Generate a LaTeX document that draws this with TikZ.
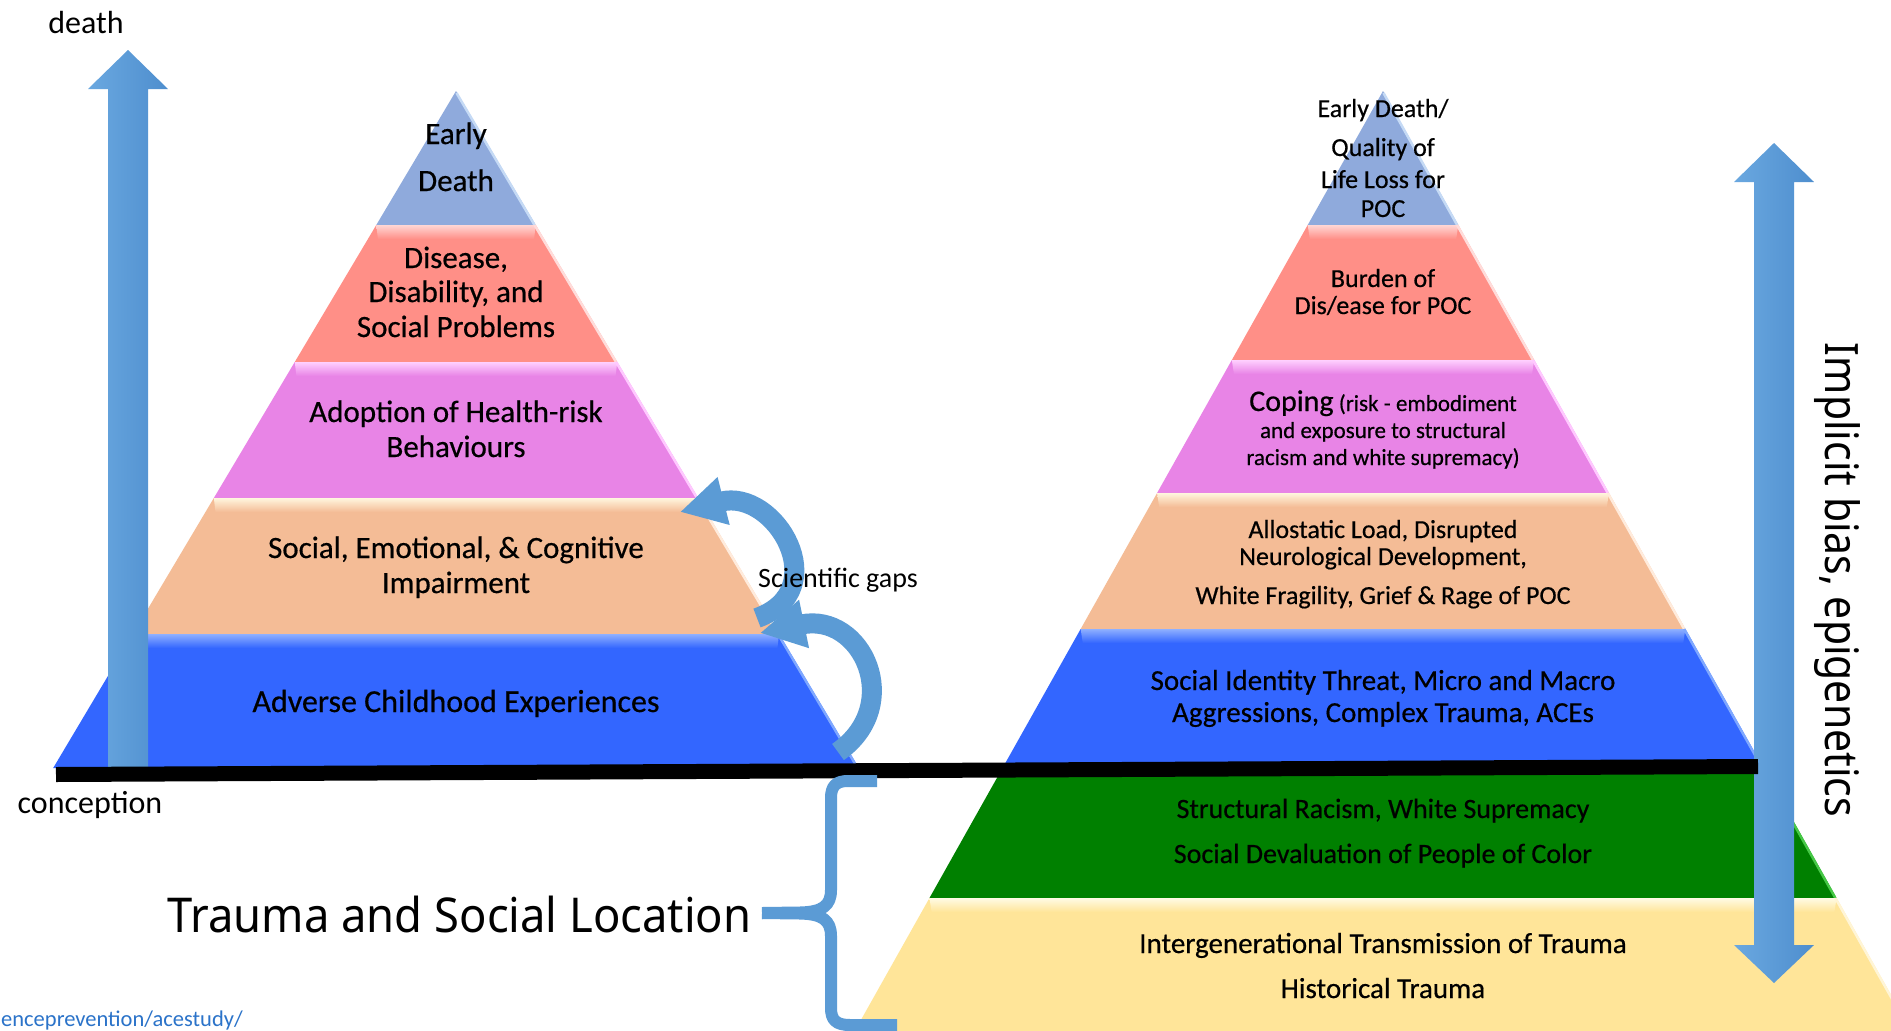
\documentclass[tikz,border=0pt]{standalone}
\usepackage{fontspec}
\setmainfont{Carlito}
\newfontfamily\notosans{Noto Sans}
\newfontfamily\pyrfont{Carlito}[FakeBold=0.5]
\usetikzlibrary{arrows.meta}
\definecolor{cTop}{RGB}{143,170,220}
\definecolor{cSal}{RGB}{255,143,135}
\definecolor{cVio}{RGB}{232,132,230}
\definecolor{cPea}{RGB}{244,188,150}
\definecolor{cBlu}{RGB}{51,102,255}
\definecolor{cGre}{RGB}{0,128,0}
\definecolor{cYel}{RGB}{255,229,153}
\definecolor{hSal}{RGB}{255,214,212}
\definecolor{hVio}{RGB}{255,208,255}
\definecolor{hPea}{RGB}{255,246,222}
\definecolor{hBlu}{RGB}{143,176,255}
\definecolor{hYel}{RGB}{255,251,229}
\definecolor{eTop}{RGB}{197,218,245}
\definecolor{eSal}{RGB}{255,220,218}
\definecolor{eVio}{RGB}{255,200,255}
\definecolor{ePea}{RGB}{255,235,220}
\definecolor{eBlu}{RGB}{127,168,255}
\definecolor{eGre}{RGB}{70,200,70}
\definecolor{eYel}{RGB}{255,245,214}
\definecolor{arBlue}{RGB}{91,155,213}
\definecolor{arLight}{RGB}{106,168,224}
\definecolor{arDark}{RGB}{78,142,206}
\definecolor{linkBlue}{RGB}{43,115,201}
\newcommand{\pfs}[1]{\fontsize{#1}{#1}\selectfont}
% #1 ytop, #2 ybot, #3 apex x, #4 slope, #5 base colour, #6 highlight, #7 edge
\newcommand{\pyrlayer}[7]{%
  \fill[#5] ({#3-#4*(#1-91)},#1) -- ({#3+#4*(#1-91)},#1) -- ({#3+#4*(#2-91)},#2) -- ({#3-#4*(#2-91)},#2) -- cycle;
  \shade[top color=#6, bottom color=#5] ({#3-#4*(#1-91)},#1) -- ({#3+#4*(#1-91)},#1) -- ({#3+#4*(#1+14-91)-10},{#1+14}) -- ({#3-#4*(#1+14-91)+10},{#1+14}) -- cycle;
  \draw[#7, line width=2.5pt] ({#3+#4*(#1-91)-1.2},#1) -- ({#3+#4*(#2-91)-1.2},#2);
}
\newcommand{\pyrtop}[3]{% apex x, slope, ybot
  \fill[cTop] (#1,91) -- ({#1+#2*(#3-91)},#3) -- ({#1-#2*(#3-91)},#3) -- cycle;
  \draw[eTop, line width=2.5pt] ({#1+0.5},93) -- ({#1+#2*(#3-91)-1.2},#3);
}
\begin{document}
\begin{tikzpicture}[x=1pt,y=-1pt,
  lbl/.style={inner sep=0pt, anchor=base, text=black},
  curvearrow/.style={draw=arBlue, line width=20pt, -{Triangle[length=45pt,width=46pt]}},
  bracestyle/.style={draw=arBlue, line width=12pt, line join=round}]
\useasboundingbox (0,0) rectangle (1891,1031);
\clip (0,0) rectangle (1891,1031);
\fill[white] (0,0) rectangle (1891,1031);

% ---------- left pyramid ----------
\pyrtop{456}{0.595}{225}
\pyrlayer{225}{362}{456}{0.595}{cSal}{hSal}{eSal}
\pyrlayer{362}{498}{456}{0.595}{cVio}{hVio}{eVio}
\pyrlayer{498}{634}{456}{0.595}{cPea}{hPea}{ePea}
\pyrlayer{634}{768}{456}{0.595}{cBlu}{hBlu}{eBlu}

% ---------- right pyramid ----------
\pyrtop{1383}{0.562}{225}
\pyrlayer{225}{360}{1383}{0.562}{cSal}{hSal}{eSal}
\pyrlayer{360}{493}{1383}{0.562}{cVio}{hVio}{eVio}
\pyrlayer{493}{629}{1383}{0.562}{cPea}{hPea}{ePea}
\pyrlayer{629}{766}{1383}{0.562}{cBlu}{hBlu}{eBlu}
\pyrlayer{766}{898}{1383}{0.562}{cGre}{cGre}{eGre}
\pyrlayer{898}{1045}{1383}{0.562}{cYel}{hYel}{eYel}

% ---------- left timeline arrow ----------
\shade[left color=arLight, right color=arDark]
  (128,50) -- (168,89) -- (148,89) -- (148,767) -- (108,767) -- (108,89) -- (88,89) -- cycle;

% ---------- right double arrow ----------
\shade[left color=arLight, right color=arDark]
  (1774,143) -- (1814,182) -- (1794,182) -- (1794,945) -- (1814,945) -- (1774,983)
  -- (1734,945) -- (1754,945) -- (1754,182) -- (1734,182) -- cycle;

% ---------- black ground line ----------
\coordinate (gl) at (56,774.5);
\coordinate (gr) at (1758,766.5);
\draw[black, line width=15pt] (gl) -- (gr);

% ---------- curved arrows ----------
\coordinate (ua0) at (757,618);
\coordinate (ua1) at (680,512);
\coordinate (la0) at (838,752);
\coordinate (la1) at (760,633);
\draw[curvearrow] (ua0) .. controls (835,590) and (775,488) .. (ua1);
\draw[curvearrow] (la0) .. controls (905,705) and (862,612) .. (la1);

% ---------- brace ----------
\draw[bracestyle] (877,781) -- (848,781) .. controls (836,781) and (831,786) .. (831,798)
  -- (831,890) .. controls (831,906) and (822,912) .. (800,912.5) -- (762,913);
\draw[bracestyle] (762,913) -- (800,913.5) .. controls (822,914) and (831,920) .. (831,936)
  -- (831,1008) .. controls (831,1020) and (836,1025) .. (850,1025) -- (897,1025);

% ---------- left pyramid texts ----------
\node[lbl, font=\pyrfont\pfs{31}] (le1) at (456,144) {Early};
\node[lbl, font=\pyrfont\pfs{31}] (le2) at (456,191) {Death};
\node[lbl, font=\pyrfont\pfs{31}] (ld1) at (456,268) {Disease,};
\node[lbl, font=\pyrfont\pfs{31}] (ld2) at (456,302) {Disability, and};
\node[lbl, font=\pyrfont\pfs{31}] (ld3) at (456,337) {Social Problems};
\node[lbl, font=\pyrfont\pfs{31}] (la1t) at (456,422) {Adoption of Health-risk};
\node[lbl, font=\pyrfont\pfs{31}] (la2t) at (456,457) {Behaviours};
\node[lbl, font=\pyrfont\pfs{31}] (ls1) at (456,558) {Social, Emotional, \& Cognitive};
\node[lbl, font=\pyrfont\pfs{31}] (ls2) at (456,593) {Impairment};
\node[lbl, font=\pyrfont\pfs{32}] (lace) at (456,712) {Adverse Childhood Experiences};

% ---------- right pyramid texts ----------
\node[lbl, font=\pyrfont\pfs{26}] (re1) at (1383,117) {Early Death/};
\node[lbl, font=\pyrfont\pfs{26}] (re2) at (1383,156) {Quality of};
\node[lbl, font=\pyrfont\pfs{26}] (re3) at (1383,188) {Life Loss for};
\node[lbl, font=\pyrfont\pfs{26}] (re4) at (1383,217) {POC};
\node[lbl, font=\pyrfont\pfs{26}] (rb1) at (1383,287) {Burden of};
\node[lbl, font=\pyrfont\pfs{26}] (rb2) at (1383,314) {Dis/ease for POC};
\node[lbl, font=\pyrfont] (rc1) at (1383,411) {{\pfs{30}Coping}{\pfs{23} (risk - embodiment}};
\node[lbl, font=\pyrfont\pfs{23}] (rc2) at (1383,438) {and exposure to structural};
\node[lbl, font=\pyrfont\pfs{23}] (rc3) at (1383,465) {racism and white supremacy)};
\node[lbl, font=\pyrfont\pfs{26}] (ra1) at (1383,538) {Allostatic Load, Disrupted};
\node[lbl, font=\pyrfont\pfs{26}] (ra2) at (1383,565) {Neurological Development,};
\node[lbl, font=\pyrfont\pfs{26}] (ra3) at (1383,604) {White Fragility, Grief \& Rage of POC};
\node[lbl, font=\pyrfont\pfs{29}] (ri1) at (1383,690) {Social Identity Threat, Micro and Macro};
\node[lbl, font=\pyrfont\pfs{29}] (ri2) at (1383,722) {Aggressions, Complex Trauma, ACEs};
\node[lbl, font=\pyrfont\pfs{28}] (rg1) at (1383,818) {Structural Racism, White Supremacy};
\node[lbl, font=\pyrfont\pfs{28}] (rg2) at (1383,863) {Social Devaluation of People of Color};
\node[lbl, font=\pyrfont\pfs{29}] (ry1) at (1383,953) {Intergenerational Transmission of Trauma};
\node[lbl, font=\pyrfont\pfs{29}] (ry2) at (1383,998) {Historical Trauma};

% ---------- other labels ----------
\node[lbl, font=\pfs{32}] (death) at (86,33) {death};
\node[lbl, font=\pfs{32}] (conception) at (90,813) {conception};
\node[lbl, font=\pfs{28}] (gaps) at (838,587) {Scientific gaps};
\node[lbl, font=\notosans\pfs{48}] (trauma) at (459.5,932) {\scalebox{0.945}[1]{Trauma and Social Location}};
\node[lbl, font=\notosans\pfs{46}, rotate=-90] (implicit) at (1825,580) {\scalebox{0.89}[1]{Implicit bias, epigenetics}};
\node[inner sep=0pt, anchor=base west, text=linkBlue, font=\pfs{22.5}] (link) at (1,1026) {enceprevention/acestudy/};
\end{tikzpicture}
\end{document}
